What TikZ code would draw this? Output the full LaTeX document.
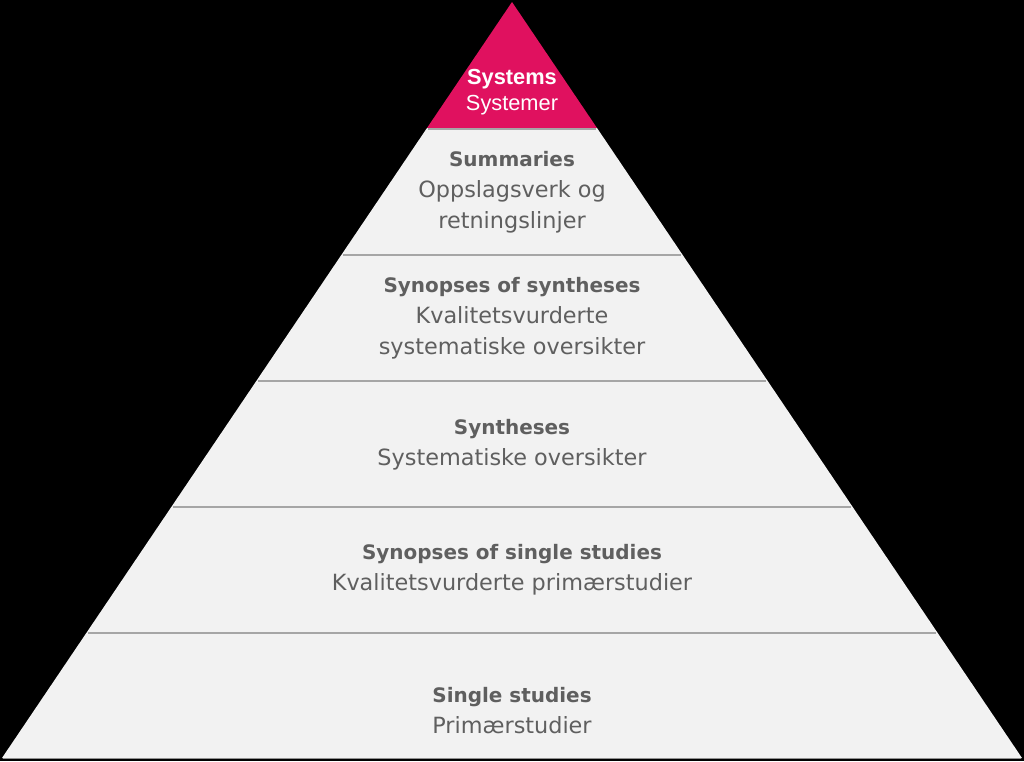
\documentclass[tikz,border=0pt]{standalone}
\usepackage{fontspec}
\setmainfont{DejaVu Sans}
\newfontfamily\arialfont{Liberation Sans}
\usepackage{xcolor}
\usetikzlibrary{positioning}

\definecolor{pyrpink}{HTML}{E0115F}
\definecolor{pyrgray}{HTML}{F2F2F2}
\definecolor{pyrline}{HTML}{A6A6A6}
\definecolor{pyrtext}{HTML}{5F5F5F}

\newcommand{\lvlhead}[1]{{\fontsize{14.2}{22}\selectfont\bfseries #1}}

\begin{document}
\begin{tikzpicture}[x=0.25mm,y=-0.25mm,
    levelfill/.style={fill=pyrgray},
    levelline/.style={draw=pyrline, line width=0.5mm},
    leveltext/.style={text=pyrtext, align=center, inner sep=0pt,
      font=\fontsize{15.9}{22}\selectfont},
    toptext/.style={text=white, align=center, inner sep=0pt,
      font=\arialfont\fontsize{15.5}{18.5}\selectfont}]
  % background
  \fill[black] (0,0) rectangle (1024,761);
  % top of the pyramid
  \fill[pyrpink] (512,2) -- (427,128) -- (597,128) -- cycle;
  % the five grey levels
  \foreach \i in {1,...,5} {
    \pgfmathsetmacro{\ya}{2+126*\i}
    \pgfmathsetmacro{\yb}{\ya+126}
    \pgfmathsetmacro{\wa}{85*\i}
    \pgfmathsetmacro{\wb}{85*(\i+1)}
    \fill[levelfill] (512-\wa,\ya) -- (512+\wa,\ya) -- (512+\wb,\yb) -- (512-\wb,\yb) -- cycle;
    \draw[levelline] (512-\wa+1,\ya+1) -- (512+\wa-1,\ya+1);
  }
  \draw[levelline, draw=pyrgray!60!black, line width=0.25mm] (3,758) -- (1021,758);

  % texts
  \node[toptext] (sys) at (512,92) {\textbf{Systems}\\Systemer};
  \node[leveltext] (sum) at (512,192) {\lvlhead{Summaries}\\Oppslagsverk og\\retningslinjer};
  \node[leveltext] (synsyn) at (512,318.5) {\lvlhead{Synopses of syntheses}\\Kvalitetsvurderte\\systematiske oversikter};
  \node[leveltext] (syn) at (512,445) {\lvlhead{Syntheses}\\Systematiske oversikter};
  \node[leveltext] (synsing) at (512,570) {\lvlhead{Synopses of single studies}\\Kvalitetsvurderte primærstudier};
  \node[leveltext] (single) at (512,710.5) {\lvlhead{Single studies}\\Primærstudier};
\end{tikzpicture}
\end{document}
